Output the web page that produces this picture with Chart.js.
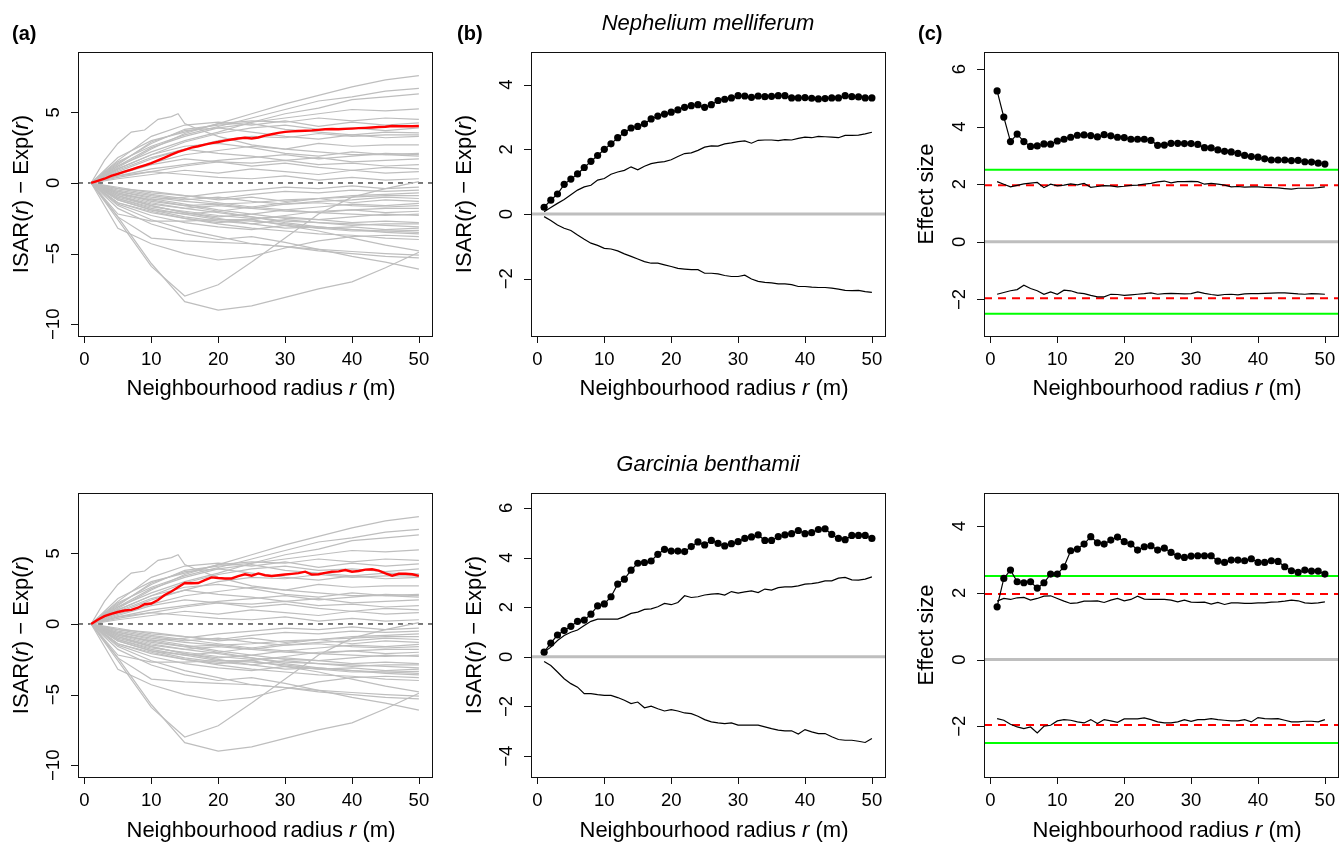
<!DOCTYPE html>
<html>
<head>
<meta charset="utf-8">
<title>ISAR panels</title>
<script src="https://cdn.jsdelivr.net/npm/chart.js@4.4.1/dist/chart.umd.min.js"></script>
<style>
  html, body { margin: 0; padding: 0; background: #fff; }
  #fig { position: relative; width: 1344px; height: 845px; overflow: hidden; }
  #fig canvas { position: absolute; }
</style>
</head>
<body>
<div id="fig">
  <canvas id="pa1" width="448" height="422" style="left:0px;top:0px"></canvas>
  <canvas id="pb1" width="448" height="422" style="left:448px;top:0px"></canvas>
  <canvas id="pc1" width="448" height="422" style="left:896px;top:0px"></canvas>
  <canvas id="pa2" width="448" height="423" style="left:0px;top:422px"></canvas>
  <canvas id="pb2" width="448" height="423" style="left:448px;top:422px"></canvas>
  <canvas id="pc2" width="448" height="423" style="left:896px;top:422px"></canvas>
</div>
<script>
(function () {
  'use strict';

  // ---- data ----
  var RADIUS = [1, 2, 3, 4, 5, 6, 7, 8, 9, 10, 11, 12, 13, 14, 15, 16, 17, 18, 19, 20,
    21, 22, 23, 24, 25, 26, 27, 28, 29, 30, 31, 32, 33, 34, 35, 36, 37, 38, 39, 40,
    41, 42, 43, 44, 45, 46, 47, 48, 49, 50];
  var X_TICKS = [0, 10, 20, 30, 40, 50];

  // background species in (a), sampled every 5 m
  var GREY_R = [1, 5, 10, 15, 20, 25, 30, 35, 40, 45, 50];
  var GREY_CURVES = [
    [0, 1.8, 3.0, 3.6, 4.2, 4.9, 5.6, 6.2, 6.8, 7.3, 7.6],
    [0, 1.5, 2.6, 3.4, 4.0, 4.6, 5.2, 5.8, 6.1, 6.5, 6.7],
    [0, 1.2, 2.2, 3.0, 3.6, 4.3, 4.9, 5.3, 5.9, 6.1, 6.3],
    [0, 1.4, 2.8, 3.8, 4.1, 4.3, 4.6, 4.9, 5.2, 5.1, 5.25],
    [0, 1.1, 2.4, 3.5, 4.2, 4.4, 4.3, 4.6, 4.4, 4.6, 4.5],
    [0, 1.6, 3.3, 4.1, 4.3, 4.1, 4.4, 4.0, 4.3, 4.1, 4.25],
    [0, 1.0, 2.0, 2.9, 3.5, 3.9, 4.1, 3.8, 3.9, 3.7, 3.9],
    [0, 1.2, 2.5, 3.3, 3.9, 4.2, 3.8, 3.6, 3.4, 3.6, 3.55],
    [0, 0.8, 1.7, 2.4, 3.0, 3.3, 3.2, 3.5, 3.3, 3.4, 3.4],
    [0, 1.3, 2.9, 3.7, 3.9, 3.6, 3.3, 3.1, 3.4, 3.2, 3.3],
    [0, 0.7, 1.4, 2.0, 2.3, 2.6, 2.4, 2.8, 2.6, 2.7, 2.7],
    [0, 1.0, 2.0, 2.6, 2.8, 2.5, 2.1, 1.9, 2.2, 2.0, 2.1],
    [0, 0.5, 1.0, 1.3, 1.6, 1.8, 2.0, 1.7, 1.9, 2.1, 2.0],
    [0, 0.9, 1.8, 2.4, 2.1, 1.9, 1.6, 1.8, 1.5, 1.6, 1.7],
    [0, 0.4, 0.8, 1.2, 1.5, 1.4, 1.6, 1.3, 1.4, 1.2, 1.3],
    [0, 0.6, 1.3, 1.7, 1.5, 1.2, 1.4, 1.1, 0.9, 1.1, 1.0],
    [0, 0.3, 0.6, 0.9, 0.7, 1.0, 0.8, 0.6, 0.9, 0.7, 0.8],
    [0, 0.5, 0.8, 0.6, 0.4, 0.3, 0.5, 0.2, 0.4, 0.2, 0.3],
    [0, -2.6, -5.9, -8.0, -7.2, -5.6, -3.9, -2.2, -1.0, -0.4, 0.1],
    [0, -2.4, -5.7, -8.4, -9.0, -8.7, -8.1, -7.5, -7.0, -6.0, -4.9],
    [0, -3.2, -4.3, -5.0, -5.45, -5.2, -4.6, -4.1, -3.8, -3.7, -3.8],
    [0, -2.2, -2.7, -2.7, -2.6, -2.6, -3.0, -3.4, -3.9, -4.4, -4.8],
    [0, -1.8, -2.9, -3.6, -4.0, -3.8, -4.2, -4.7, -5.2, -5.6, -6.1],
    [0, -2.4, -3.9, -4.1, -4.2, -4.3, -4.5, -4.8, -5.0, -5.2, -5.3],
    [0, -1.6, -2.6, -3.3, -3.8, -4.3, -4.5, -4.7, -4.85, -5.0, -5.1],
    [0, -1.4, -2.1, -2.5, -2.9, -3.2, -3.4, -3.6, -3.7, -3.9, -4.0],
    [0, -0.8, -1.2, -1.0, -0.7, -0.5, -0.3, -0.4, -0.2, -0.4, -0.3],
    [0, -0.4, -0.6, -0.9, -1.1, -0.8, -0.6, -0.7, -0.5, -0.6, -0.5],
    [0, -1.2, -1.9, -2.2, -2.0, -1.7, -1.4, -1.1, -0.9, -0.8, -0.7],
    [0, -0.6, -1.0, -1.3, -1.5, -1.4, -1.2, -1.1, -1.0, -0.9, -0.9],
    [0, -0.9, -1.5, -1.8, -1.6, -1.8, -1.5, -1.3, -1.2, -1.0, -1.1],
    [0, -0.3, -0.7, -0.9, -1.2, -1.0, -1.3, -1.1, -1.4, -1.2, -1.3],
    [0, -1.0, -1.6, -2.1, -2.4, -2.2, -1.9, -1.7, -1.5, -1.6, -1.45],
    [0, -0.5, -0.9, -1.2, -1.0, -1.3, -1.5, -1.4, -1.6, -1.7, -1.6],
    [0, -1.4, -2.0, -2.5, -2.8, -2.6, -2.3, -2.0, -1.9, -1.8, -1.8],
    [0, -0.7, -1.3, -1.6, -1.5, -1.8, -2.0, -2.1, -1.9, -2.1, -2.0],
    [0, -0.4, -0.8, -1.1, -1.4, -1.7, -1.9, -2.1, -2.2, -2.3, -2.2],
    [0, -1.1, -1.7, -2.0, -2.3, -2.5, -2.4, -2.6, -2.4, -2.2, -2.3],
    [0, -0.6, -1.1, -1.5, -1.9, -2.2, -2.5, -2.6, -2.8, -2.7, -2.8],
    [0, -1.2, -1.9, -2.4, -2.7, -2.9, -2.6, -2.8, -3.0, -2.9, -2.9],
    [0, -0.8, -1.4, -1.8, -2.1, -2.4, -2.7, -2.8, -2.9, -3.0, -3.1],
    [0, -1.5, -2.3, -2.8, -3.1, -3.3, -3.0, -3.2, -3.1, -3.3, -3.2],
    [0, -0.9, -1.6, -2.1, -2.5, -2.9, -3.2, -3.1, -3.3, -3.4, -3.35],
    [0, -1.1, -1.8, -2.2, -2.6, -2.7, -2.9, -3.2, -3.4, -3.4, -3.5],
    [0, -0.7, -1.2, -1.6, -2.0, -2.4, -2.8, -3.1, -3.3, -3.5, -3.6]
  ];
  var PEAK_R = [1, 3, 5, 7, 9, 11, 13, 14, 15, 17, 20, 25, 30, 35, 40, 45, 50];
  var PEAK_CURVE = [0, 1.6, 2.8, 3.6, 3.75, 4.5, 4.7, 4.9, 4.2, 3.8, 3.3, 2.7, 2.4, 2.2, 2.0, 2.0, 1.9];

  var RED_A_TOP = [0.0, 0.15, 0.3, 0.5, 0.65, 0.8, 0.95, 1.1, 1.25, 1.4,
    1.6, 1.8, 2.0, 2.2, 2.35, 2.5, 2.6, 2.72, 2.82, 2.9,
    3.0, 3.08, 3.15, 3.2, 3.15, 3.22, 3.35, 3.45, 3.55, 3.62,
    3.65, 3.68, 3.7, 3.72, 3.76, 3.8, 3.82, 3.8, 3.83, 3.85,
    3.88, 3.9, 3.93, 3.96, 3.98, 4.03, 4.02, 4.01, 4.02, 4.03];
  var RED_A_BOT = [0.0, 0.3, 0.55, 0.72, 0.85, 0.95, 1.0, 1.15, 1.4, 1.45,
    1.7, 2.05, 2.3, 2.6, 2.9, 2.88, 2.9, 3.1, 3.3, 3.25,
    3.22, 3.22, 3.38, 3.52, 3.42, 3.58, 3.45, 3.4, 3.45, 3.5,
    3.55, 3.6, 3.7, 3.5, 3.52, 3.62, 3.7, 3.72, 3.82, 3.7,
    3.75, 3.85, 3.87, 3.78, 3.58, 3.42, 3.55, 3.55, 3.52, 3.4];

  // Nephelium melliferum
  var B_TOP_OBS = [0.21, 0.43, 0.62, 0.92, 1.08, 1.24, 1.44, 1.63, 1.81, 2.0,
    2.17, 2.36, 2.52, 2.66, 2.71, 2.79, 2.94, 3.03, 3.09, 3.15,
    3.22, 3.3, 3.35, 3.38, 3.3, 3.38, 3.51, 3.55, 3.59, 3.66,
    3.65, 3.61, 3.65, 3.63, 3.64, 3.66, 3.66, 3.59, 3.59, 3.6,
    3.58, 3.56, 3.57, 3.59, 3.59, 3.66, 3.63, 3.62, 3.59, 3.59];
  var B_TOP_HI = [0.07, 0.2, 0.33, 0.45, 0.6, 0.74, 0.84, 0.89, 1.05, 1.1,
    1.23, 1.3, 1.35, 1.46, 1.37, 1.48, 1.56, 1.6, 1.62, 1.68,
    1.78, 1.87, 1.89, 1.97, 2.07, 2.11, 2.1, 2.17, 2.2, 2.24,
    2.26, 2.19, 2.28, 2.29, 2.29, 2.27, 2.3, 2.29, 2.34, 2.38,
    2.36, 2.4, 2.39, 2.38, 2.36, 2.43, 2.43, 2.44, 2.48, 2.53];
  var B_TOP_LO = [-0.08, -0.2, -0.34, -0.44, -0.51, -0.65, -0.78, -0.9, -0.97, -1.06,
    -1.08, -1.14, -1.23, -1.31, -1.39, -1.47, -1.52, -1.52, -1.57, -1.62,
    -1.68, -1.7, -1.72, -1.72, -1.83, -1.83, -1.85, -1.9, -1.93, -1.93,
    -1.89, -2.01, -2.08, -2.11, -2.13, -2.16, -2.16, -2.18, -2.24, -2.24,
    -2.26, -2.27, -2.27, -2.29, -2.32, -2.36, -2.37, -2.36, -2.4, -2.42];
  var C_TOP_OBS = [5.24, 4.33, 3.48, 3.74, 3.48, 3.31, 3.33, 3.4, 3.39, 3.5,
    3.56, 3.63, 3.7, 3.71, 3.69, 3.64, 3.72, 3.68, 3.63, 3.62,
    3.56, 3.56, 3.56, 3.52, 3.35, 3.36, 3.42, 3.42, 3.41, 3.41,
    3.38, 3.27, 3.26, 3.19, 3.14, 3.12, 3.07, 3.0, 2.96, 2.94,
    2.88, 2.84, 2.84, 2.84, 2.82, 2.83, 2.78, 2.77, 2.73, 2.7];
  var C_TOP_HI = [2.09, 2.0, 1.91, 1.96, 2.01, 2.04, 2.06, 1.88, 2.0, 1.94,
    1.97, 2.01, 1.98, 2.03, 1.89, 1.92, 1.95, 1.94, 1.91, 1.93,
    1.96, 1.97, 2.0, 2.03, 2.08, 2.11, 2.05, 2.09, 2.09, 2.1,
    2.09, 2.0, 2.03, 2.0, 1.97, 1.91, 1.92, 1.9, 1.91, 1.91,
    1.89, 1.88, 1.87, 1.85, 1.83, 1.86, 1.86, 1.86, 1.88, 1.91];
  var C_TOP_LO = [-1.82, -1.76, -1.7, -1.66, -1.51, -1.62, -1.7, -1.82, -1.74, -1.82,
    -1.68, -1.7, -1.77, -1.8, -1.86, -1.91, -1.91, -1.82, -1.83, -1.86,
    -1.84, -1.82, -1.8, -1.77, -1.82, -1.8, -1.79, -1.8, -1.81, -1.8,
    -1.74, -1.79, -1.83, -1.86, -1.83, -1.82, -1.84, -1.81, -1.8, -1.8,
    -1.79, -1.78, -1.77, -1.77, -1.79, -1.81, -1.82, -1.8, -1.81, -1.82];

  // Garcinia benthamii
  var B_BOT_OBS = [0.19, 0.55, 0.88, 1.06, 1.23, 1.43, 1.48, 1.72, 2.05, 2.13,
    2.42, 2.93, 3.13, 3.49, 3.77, 3.8, 3.86, 4.13, 4.33, 4.26,
    4.26, 4.24, 4.44, 4.63, 4.51, 4.69, 4.57, 4.47, 4.56, 4.64,
    4.77, 4.83, 4.91, 4.69, 4.69, 4.84, 4.91, 4.96, 5.09, 4.96,
    5.0, 5.13, 5.16, 4.93, 4.77, 4.72, 4.89, 4.89, 4.89, 4.77];
  var B_BOT_HI = [0.19, 0.39, 0.66, 0.86, 0.99, 1.08, 1.26, 1.43, 1.52, 1.52,
    1.52, 1.52, 1.62, 1.75, 1.8, 1.91, 1.93, 2.02, 2.15, 2.1,
    2.19, 2.46, 2.39, 2.42, 2.49, 2.53, 2.55, 2.49, 2.63, 2.57,
    2.62, 2.66, 2.59, 2.73, 2.69, 2.79, 2.82, 2.82, 2.86, 2.93,
    2.95, 2.99, 3.06, 3.06, 3.17, 3.2, 3.1, 3.09, 3.13, 3.22];
  var B_BOT_LO = [-0.19, -0.35, -0.61, -0.88, -1.08, -1.22, -1.48, -1.48, -1.52, -1.55,
    -1.55, -1.64, -1.75, -1.88, -1.82, -2.05, -1.99, -2.09, -2.18, -2.13,
    -2.18, -2.26, -2.29, -2.39, -2.53, -2.62, -2.66, -2.69, -2.66, -2.75,
    -2.75, -2.75, -2.75, -2.82, -2.89, -2.95, -2.98, -2.98, -3.11, -2.93,
    -3.02, -3.09, -3.09, -3.22, -3.33, -3.36, -3.36, -3.4, -3.45, -3.29];
  var C_BOT_OBS = [1.58, 2.43, 2.68, 2.33, 2.3, 2.33, 2.14, 2.3, 2.56, 2.56,
    2.78, 3.26, 3.31, 3.46, 3.68, 3.5, 3.46, 3.58, 3.67, 3.53,
    3.46, 3.28, 3.38, 3.41, 3.28, 3.34, 3.21, 3.1, 3.06, 3.1,
    3.11, 3.11, 3.11, 2.95, 2.91, 2.98, 2.98, 2.96, 3.02, 2.91,
    2.91, 2.96, 2.94, 2.78, 2.66, 2.61, 2.68, 2.65, 2.65, 2.56];
  var C_BOT_HI = [1.75, 1.83, 1.8, 1.85, 1.86, 1.78, 1.83, 1.9, 1.91, 1.83,
    1.75, 1.68, 1.7, 1.75, 1.75, 1.76, 1.71, 1.78, 1.83, 1.76,
    1.8, 1.9, 1.81, 1.8, 1.8, 1.8, 1.78, 1.73, 1.78, 1.72,
    1.71, 1.72, 1.66, 1.71, 1.65, 1.7, 1.7, 1.68, 1.68, 1.7,
    1.7, 1.72, 1.73, 1.75, 1.78, 1.76, 1.7, 1.68, 1.7, 1.73];
  var C_BOT_LO = [-1.77, -1.82, -1.94, -2.02, -2.07, -2.02, -2.2, -2.0, -1.97, -1.84,
    -1.8, -1.82, -1.87, -1.9, -1.8, -1.92, -1.8, -1.84, -1.88, -1.78,
    -1.78, -1.78, -1.75, -1.8, -1.87, -1.9, -1.9, -1.87, -1.8, -1.85,
    -1.8, -1.8, -1.77, -1.8, -1.82, -1.84, -1.84, -1.8, -1.87, -1.74,
    -1.77, -1.78, -1.77, -1.82, -1.87, -1.87, -1.85, -1.85, -1.87, -1.8];

  var CRIT_DASH = 1.96;
  var CRIT_GREEN = 2.5;

  var A_Y_TICKS = [-10, -5, 0, 5];
  var B_TOP_Y_TICKS = [-2, 0, 2, 4];
  var C_TOP_Y_TICKS = [-2, 0, 2, 4, 6];
  var B_BOT_Y_TICKS = [-4, -2, 0, 2, 4, 6];
  var C_BOT_Y_TICKS = [-2, 0, 2, 4];

  // R style axis range: data 1..50 plus 4 %
  var X_MIN = -0.96, X_MAX = 51.96;

  var FONT = '"Liberation Sans", Arial, Helvetica, sans-serif';
  var GREY = '#bebebe';
  var TICK = 7;

  var X_TITLE = [['Neighbourhood radius ', false], ['r', true], [' (m)', false]];
  var ISAR_TITLE = [['ISAR(', false], ['r', true], [') \u2212 Exp(', false], ['r', true], [')', false]];
  var EFFECT_TITLE = [['Effect size', false]];

  function font(size, italic, bold) {
    return (italic ? 'italic ' : '') + (bold ? 'bold ' : '') + size + 'px ' + FONT;
  }

  function fmt(v) {
    return String(v).replace('-', '\u2212');
  }

  function drawRich(ctx, parts, x, y, size) {
    var widths = parts.map(function (p) {
      ctx.font = font(size, p[1]);
      return ctx.measureText(p[0]).width;
    });
    var total = widths.reduce(function (a, b) { return a + b; }, 0);
    var cx = x - total / 2;
    ctx.textAlign = 'left';
    parts.forEach(function (p, i) {
      ctx.font = font(size, p[1]);
      ctx.fillText(p[0], cx, y);
      cx += widths[i];
    });
  }

  // box, outward ticks, rotated y labels, titles — the way base R draws them
  var rAxes = {
    id: 'rAxes',
    afterDraw: function (chart, args, o) {
      var ctx = chart.ctx;
      var a = chart.chartArea;
      var xs = chart.scales.x;
      var ys = chart.scales.y;
      ctx.save();
      ctx.strokeStyle = '#111';
      ctx.lineWidth = 1;
      ctx.strokeRect(Math.round(a.left) + 0.5, Math.round(a.top) + 0.5,
        Math.round(a.right - a.left), Math.round(a.bottom - a.top));

      ctx.beginPath();
      o.xTicks.forEach(function (v) {
        var px = Math.round(xs.getPixelForValue(v)) + 0.5;
        ctx.moveTo(px, a.bottom);
        ctx.lineTo(px, a.bottom + TICK);
      });
      o.yTicks.forEach(function (v) {
        var py = Math.round(ys.getPixelForValue(v)) + 0.5;
        ctx.moveTo(a.left, py);
        ctx.lineTo(a.left - TICK, py);
      });
      ctx.stroke();

      ctx.fillStyle = '#000';
      ctx.textBaseline = 'alphabetic';
      ctx.font = font(18.5);
      ctx.textAlign = 'center';
      o.xTicks.forEach(function (v) {
        ctx.fillText(fmt(v), xs.getPixelForValue(v), a.bottom + 29);
      });
      o.yTicks.forEach(function (v) {
        ctx.save();
        ctx.translate(a.left - 19, ys.getPixelForValue(v));
        ctx.rotate(-Math.PI / 2);
        ctx.textAlign = 'center';
        ctx.fillText(fmt(v), 0, 0);
        ctx.restore();
      });

      drawRich(ctx, X_TITLE, (a.left + a.right) / 2 + 6, a.bottom + o.xTitleGap, 22);

      ctx.save();
      ctx.translate(a.left - o.yTitleGap, (a.top + a.bottom) / 2);
      ctx.rotate(-Math.PI / 2);
      drawRich(ctx, o.yTitle, 0, 0, 22);
      ctx.restore();

      if (o.title) {
        drawRich(ctx, [[o.title, true]], (a.left + a.right) / 2, a.top - 22, 22);
      }
      if (o.tag) {
        ctx.font = font(20, false, true);
        ctx.textAlign = 'left';
        ctx.fillText(o.tag, o.tagX, o.tagY);
      }
      ctx.restore();
    }
  };

  function pts(xs, ys) {
    return xs.map(function (x, i) { return { x: x, y: ys[i] }; });
  }

  function hline(y, color, width, dash, order) {
    return {
      data: [{ x: X_MIN, y: y }, { x: X_MAX, y: y }],
      borderColor: color,
      borderWidth: width,
      borderDash: dash || [],
      pointRadius: 0,
      order: order
    };
  }

  function plain(ys, color, width, order) {
    return {
      data: pts(RADIUS, ys),
      borderColor: color,
      borderWidth: width,
      pointRadius: 0,
      order: order
    };
  }

  function dotted(ys) {
    return {
      data: pts(RADIUS, ys),
      borderColor: '#000',
      borderWidth: 1.2,
      pointRadius: 3.6,
      pointBorderWidth: 0,
      pointBackgroundColor: '#000',
      order: 0
    };
  }

  function greyDatasets() {
    var list = GREY_CURVES.map(function (c) {
      return {
        data: pts(GREY_R, c),
        borderColor: GREY,
        borderWidth: 1.2,
        pointRadius: 0,
        order: 2
      };
    });
    list.push({
      data: pts(PEAK_R, PEAK_CURVE),
      borderColor: GREY,
      borderWidth: 1.2,
      pointRadius: 0,
      order: 2
    });
    return list;
  }

  function makePanel(id, cell, box, yRange, datasets, axes) {
    var canvas = document.getElementById(id);
    return new Chart(canvas.getContext('2d'), {
      type: 'line',
      data: { datasets: datasets },
      options: {
        responsive: false,
        animation: false,
        devicePixelRatio: 1,
        events: [],
        layout: {
          padding: {
            left: box.l - cell.x,
            top: box.t - cell.y,
            right: cell.x + cell.w - box.r,
            bottom: cell.y + cell.h - box.b
          }
        },
        elements: { line: { tension: 0 } },
        scales: {
          x: { type: 'linear', min: X_MIN, max: X_MAX, display: false },
          y: { type: 'linear', min: yRange[0], max: yRange[1], display: false }
        },
        plugins: {
          legend: { display: false },
          tooltip: { enabled: false },
          rAxes: axes
        }
      },
      plugins: [rAxes]
    });
  }

  var TOP = { y: 0, h: 422 };
  var BOT = { y: 422, h: 423 };
  function cell(col, row) { return { x: col * 448, y: row.y, w: 448, h: row.h }; }
  function box(l, r, row) {
    return row === TOP ? { l: l, r: r, t: 52, b: 336 } : { l: l, r: r, t: 493, b: 777 };
  }

  // (a)
  [[TOP, 'pa1', RED_A_TOP, '(a)'], [BOT, 'pa2', RED_A_BOT, null]].forEach(function (p) {
    var ds = [hline(0, '#444', 1.4, [5, 5], 3)].concat(greyDatasets());
    ds.push(plain(p[2], '#ff0000', 2.4, 0));
    makePanel(p[1], cell(0, p[0]), box(78, 432, p[0]), [-10.83, 9.27], ds, {
      xTicks: X_TICKS, yTicks: A_Y_TICKS, yTitle: ISAR_TITLE,
      yTitleGap: 50, xTitleGap: p[0] === TOP ? 59 : 60,
      tag: p[3], tagX: 12, tagY: 40
    });
  });

  // (b)
  makePanel('pb1', cell(1, TOP), box(531, 885, TOP), [-3.77, 5.01], [
    hline(0, GREY, 3, null, 3),
    plain(B_TOP_HI, '#000', 1.2, 1),
    plain(B_TOP_LO, '#000', 1.2, 1),
    dotted(B_TOP_OBS)
  ], {
    xTicks: X_TICKS, yTicks: B_TOP_Y_TICKS, yTitle: ISAR_TITLE,
    yTitleGap: 60, xTitleGap: 59, title: 'Nephelium melliferum',
    tag: '(b)', tagX: 9, tagY: 40
  });
  makePanel('pb2', cell(1, BOT), box(531, 885, BOT), [-4.84, 6.6], [
    hline(0, GREY, 3, null, 3),
    plain(B_BOT_HI, '#000', 1.2, 1),
    plain(B_BOT_LO, '#000', 1.2, 1),
    dotted(B_BOT_OBS)
  ], {
    xTicks: X_TICKS, yTicks: B_BOT_Y_TICKS, yTitle: ISAR_TITLE,
    yTitleGap: 50, xTitleGap: 60, title: 'Garcinia benthamii'
  });

  // (c)
  function effectSets(hi, lo, obs) {
    return [
      hline(0, GREY, 3, null, 5),
      hline(CRIT_GREEN, '#00ff00', 2, null, 4),
      hline(-CRIT_GREEN, '#00ff00', 2, null, 4),
      hline(CRIT_DASH, '#ff0000', 2, [8, 6], 3),
      hline(-CRIT_DASH, '#ff0000', 2, [8, 6], 3),
      plain(hi, '#000', 1.2, 1),
      plain(lo, '#000', 1.2, 1),
      dotted(obs)
    ];
  }
  makePanel('pc1', cell(2, TOP), box(984, 1338, TOP), [-3.27, 6.59],
    effectSets(C_TOP_HI, C_TOP_LO, C_TOP_OBS), {
      xTicks: X_TICKS, yTicks: C_TOP_Y_TICKS, yTitle: EFFECT_TITLE,
      yTitleGap: 51, xTitleGap: 59, tag: '(c)', tagX: 22, tagY: 40
    });
  makePanel('pc2', cell(2, BOT), box(984, 1338, BOT), [-3.52, 4.99],
    effectSets(C_BOT_HI, C_BOT_LO, C_BOT_OBS), {
      xTicks: X_TICKS, yTicks: C_BOT_Y_TICKS, yTitle: EFFECT_TITLE,
      yTitleGap: 51, xTitleGap: 60
    });
})();
</script>
</body>
</html>
